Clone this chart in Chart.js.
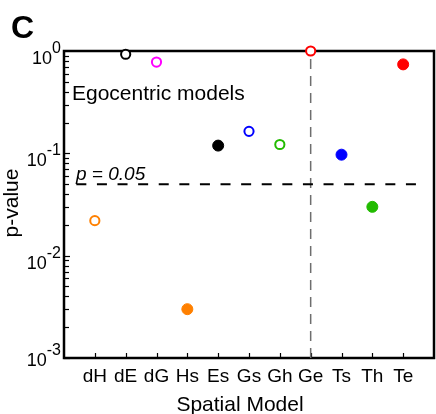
<!DOCTYPE html>
<html>
<head>
<meta charset="utf-8">
<script src="https://cdn.jsdelivr.net/npm/chart.js@4.4.1/dist/chart.umd.min.js"></script>
<style>
  html, body { margin: 0; padding: 0; background: #fff; }
  #wrap { position: relative; width: 436px; height: 414px; }
</style>
</head>
<body>
<div id="wrap"><canvas id="chart" width="436" height="414"></canvas></div>
<script>
// model names along the x axis (1..11 on a 0..12 linear scale)
const models = ['dH', 'dE', 'dG', 'Hs', 'Es', 'Gs', 'Gh', 'Ge', 'Ts', 'Th', 'Te'];
const pValues = [0.022, 0.93, 0.78, 0.003, 0.119, 0.164, 0.122, 1.0, 0.097, 0.030, 0.74];
const colors = ['#ff8000', '#000000', '#ff00ff', '#ff8000', '#000000', '#0000ff',
                '#22bb00', '#ff0000', '#0000ff', '#22bb00', '#ff0000'];
const filled = [false, false, false, true, true, false, false, false, true, true, true];

const yDecades = [0, -1, -2, -3];
const alpha = 0.05;
const alphaLineX = [0.4, 11.55];
const splitModel = 8;   // Ge, start of the egocentric block

const FONT = '"Liberation Sans", Arial, sans-serif';

const points = models.map((m, i) => ({ x: i + 1, y: pValues[i] }));

const figurePlugin = {
  id: 'figure',
  beforeDatasetsDraw(chart) {
    const { ctx, chartArea: a, scales: { x, y } } = chart;
    ctx.save();
    ctx.strokeStyle = '#000';

    // minor / major ticks on the left axis, pointing inward
    ctx.lineWidth = 1.2;
    for (let d = -3; d < 0; d++) {
      for (let m = 1; m <= 9; m++) {
        const py = Math.round(y.getPixelForValue(m * Math.pow(10, d))) + 0.5;
        ctx.beginPath();
        ctx.moveTo(a.left, py);
        ctx.lineTo(a.left + (m === 1 ? 6 : 5), py);
        ctx.stroke();
      }
    }
    // ticks along the bottom axis
    models.forEach((m, i) => {
      const px = Math.round(x.getPixelForValue(i + 1)) + 0.5;
      ctx.beginPath();
      ctx.moveTo(px, a.bottom);
      ctx.lineTo(px, a.bottom - 5);
      ctx.stroke();
    });

    // box
    ctx.lineWidth = 2.5;
    ctx.strokeRect(a.left, a.top, a.right - a.left, a.bottom - a.top);
    ctx.restore();
  },
  afterDraw(chart) {
    const { ctx, chartArea: a, scales: { x, y } } = chart;
    ctx.save();
    ctx.fillStyle = '#000';

    // panel letter
    ctx.font = 'bold 32px ' + FONT;
    ctx.textAlign = 'left';
    ctx.textBaseline = 'alphabetic';
    ctx.fillText('C', 11, 38);

    // y tick labels as 10^n
    yDecades.forEach(d => {
      const py = y.getPixelForValue(Math.pow(10, d));
      const base = Math.min(py + 13, a.bottom + 8);
      const sup = String(d);
      ctx.font = '16px ' + FONT;
      const ws = ctx.measureText(sup).width;
      ctx.font = '18px ' + FONT;
      const wb = ctx.measureText('10').width;
      const right = a.left - 3;
      ctx.textAlign = 'left';
      ctx.fillText('10', right - ws - wb, base);
      ctx.font = '16px ' + FONT;
      ctx.fillText(sup, right - ws, base - 11);
    });

    // category labels
    ctx.font = '19px ' + FONT;
    ctx.textAlign = 'center';
    models.forEach((m, i) => {
      ctx.fillText(m, x.getPixelForValue(i + 1), 382);
    });

    // axis titles
    ctx.font = '21px ' + FONT;
    ctx.fillText('Spatial Model', 240, 411);
    ctx.save();
    ctx.translate(18, 203);
    ctx.rotate(-Math.PI / 2);
    ctx.fillText('p-value', 0, 0);
    ctx.restore();

    // annotations
    ctx.textAlign = 'left';
    ctx.font = '21px ' + FONT;
    ctx.fillText('Egocentric models', 72, 100);
    ctx.font = 'italic 19px ' + FONT;
    ctx.fillText('p = 0.05', 76, 180);
    ctx.restore();
  }
};

new Chart(document.getElementById('chart'), {
  type: 'scatter',
  data: {
    datasets: [
      {
        label: 'p-value',
        data: points,
        pointRadius: filled.map(f => f ? 5.5 : 4.6),
        pointBorderWidth: filled.map(f => f ? 1 : 2),
        pointBorderColor: colors,
        pointBackgroundColor: colors.map((c, i) => filled[i] ? c : '#ffffff'),
        clip: false,
        order: 0
      },
      {
        type: 'line',
        label: 'p = 0.05',
        data: alphaLineX.map(v => ({ x: v, y: alpha })),
        borderColor: '#000',
        borderWidth: 2,
        borderDash: [10, 10.6],
        pointRadius: 0,
        order: 1
      },
      {
        type: 'line',
        label: 'split',
        data: [{ x: splitModel, y: 0.001 }, { x: splitModel, y: 1 }],
        borderColor: '#6e6e6e',
        borderWidth: 1.5,
        borderDash: [10, 7],
        pointRadius: 0,
        order: 2
      }
    ]
  },
  options: {
    responsive: false,
    animation: false,
    layout: { autoPadding: false, padding: { left: 64, top: 51, right: 2, bottom: 56 } },
    plugins: { legend: { display: false }, tooltip: { enabled: false } },
    scales: {
      x: { type: 'linear', min: 0, max: 12, display: false },
      y: { type: 'logarithmic', min: 0.001, max: 1, display: false }
    }
  },
  plugins: [figurePlugin]
});
</script>
</body>
</html>
